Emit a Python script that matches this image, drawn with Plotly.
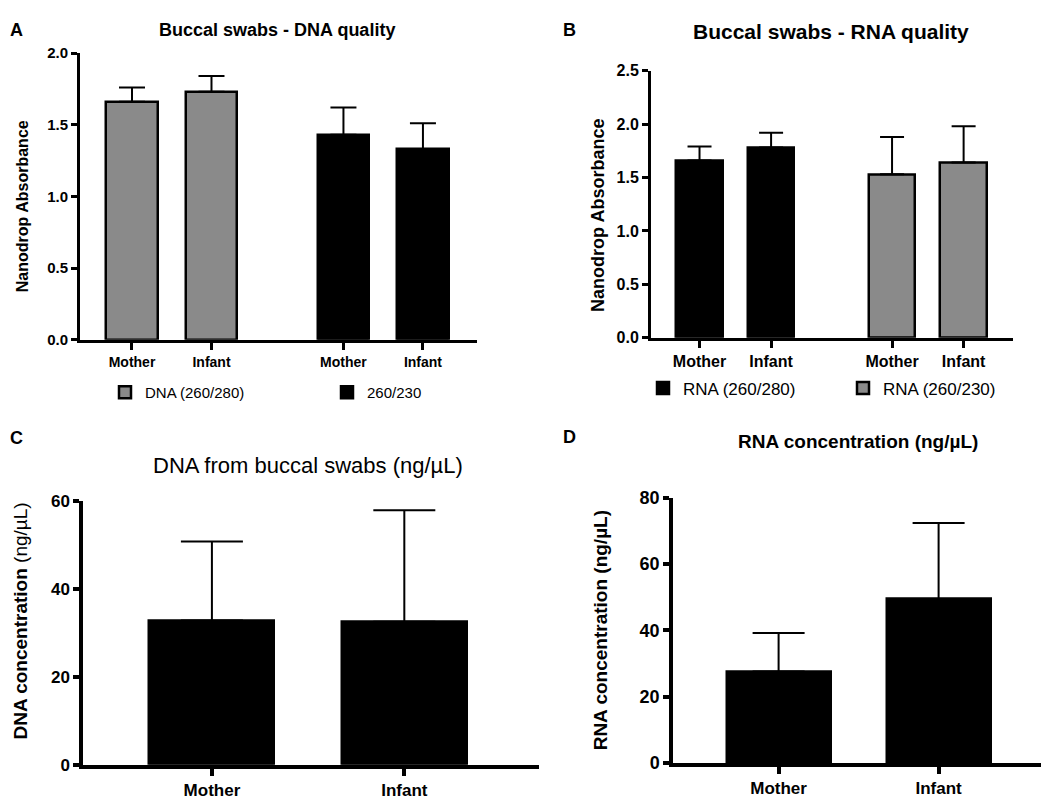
import plotly.graph_objects as go

# values (mean, SD)
groups = ["Mother", "Infant"]

dna_260_280 = [1.66, 1.73]
dna_260_280_sd = [0.10, 0.11]
dna_260_230 = [1.43, 1.33]
dna_260_230_sd = [0.19, 0.18]

rna_260_280 = [1.66, 1.78]
rna_260_280_sd = [0.13, 0.14]
rna_260_230 = [1.53, 1.64]
rna_260_230_sd = [0.35, 0.34]

dna_conc = [32.8, 32.5]
dna_conc_sd = [17.9, 25.3]
rna_conc = [27.6, 49.4]
rna_conc_sd = [11.6, 23.0]

FONT = "Liberation Sans, Arial, sans-serif"
GRAY = "#8a8a8a"
# the page puts the plot 8px in from the top-left corner
OFF = 8
W, H = 1056 - OFF, 809 - OFF


def px_x(v):
    return (v - OFF) / W


def px_y(v):
    return 1 - (v - OFF) / H


def bars(x, y, sd, color, name, xa, ya, legend=None, showlegend=True, cap=13, lw=2.5):
    return go.Bar(
        x=x, y=y, name=name, width=0.65,
        marker=dict(color=color, line=dict(color="black", width=lw)),
        error_y=dict(type="data", array=sd, arrayminus=[0] * len(sd), symmetric=False,
                     color="black", thickness=2, width=cap),
        xaxis=xa, yaxis=ya, showlegend=showlegend,
        legend=legend or "legend",
    )


# bar positions: two groups separated by a gap
pos_a1 = [i for i in range(len(groups))]
pos_a2 = [i + len(groups) + 0.66 for i in range(len(groups))]
pos_b1 = [i for i in range(len(groups))]
pos_b2 = [i + len(groups) + 0.69 for i in range(len(groups))]
pos_c = [i for i in range(len(groups))]

fig = go.Figure()
fig.add_trace(bars(pos_a1, dna_260_280, dna_260_280_sd, GRAY, "DNA (260/280)", "x", "y"))
fig.add_trace(bars(pos_a2, dna_260_230, dna_260_230_sd, "black", "260/230", "x", "y"))
fig.add_trace(bars(pos_b1, rna_260_280, rna_260_280_sd, "black", "RNA (260/280)", "x2", "y2", legend="legend2", cap=12))
fig.add_trace(bars(pos_b2, rna_260_230, rna_260_230_sd, GRAY, "RNA (260/230)", "x2", "y2", legend="legend2", cap=12))
fig.add_trace(bars(pos_c, dna_conc, dna_conc_sd, "black", "DNA", "x3", "y3", showlegend=False, cap=31))
fig.add_trace(bars(pos_c, rna_conc, rna_conc_sd, "black", "RNA", "x4", "y4", showlegend=False, cap=26))


def xax(domain, rng, tickvals, size, lw=3):
    return dict(domain=domain, range=rng, tickvals=tickvals, ticktext=groups * (len(tickvals) // 2),
                showline=True, linecolor="black", linewidth=lw, ticks="outside", ticklen=7,
                tickwidth=lw, tickcolor="black", showgrid=False, zeroline=False,
                tickfont=dict(family=FONT, size=size, color="black", weight="bold"))


def yax(domain, rng, dtick, size, fmt, anchor, lw=3):
    return dict(domain=domain, range=rng, dtick=dtick, tickformat=fmt, anchor=anchor,
                showline=True, linecolor="black", linewidth=lw, ticks="outside", ticklen=6,
                tickwidth=lw, tickcolor="black", showgrid=False, zeroline=False,
                tickfont=dict(family=FONT, size=size, color="black", weight="bold"))


fig.update_layout(
    width=W, height=H, margin=dict(l=0, r=0, t=0, b=0),
    paper_bgcolor="white", plot_bgcolor="white", bargap=0,
    xaxis=dict(**xax([px_x(80), px_x(477)], [-0.654, 4.34], pos_a1 + pos_a2, 14), anchor="y"),
    yaxis=yax([px_y(338), px_y(44)], [0, 2], 0.5, 15, ".1f", "x"),
    xaxis2=dict(**xax([px_x(651), px_x(1013)], [-0.678, 4.38], pos_b1 + pos_b2, 16), anchor="y2"),
    yaxis2=yax([px_y(336), px_y(62)], [0, 2.5], 0.5, 16, ".1f", "x2"),
    xaxis3=dict(**xax([px_x(83), px_x(539)], [-0.67, 1.70], pos_c, 17, lw=3.5), anchor="y3"),
    yaxis3=yax([px_y(774), px_y(503)], [0, 60], 20, 17, "d", "x3", lw=3.5),
    xaxis4=dict(**xax([px_x(673), px_x(1041)], [-0.66, 1.64], pos_c, 17, lw=3.5), anchor="y4"),
    yaxis4=yax([px_y(772), px_y(500)], [0, 80], 20, 18, "d", "x4", lw=3.5),
    legend=dict(orientation="h", x=px_x(105), y=px_y(392), xanchor="left", yanchor="middle",
                entrywidth=177, entrywidthmode="pixels", bgcolor="rgba(0,0,0,0)",
                font=dict(family=FONT, size=15, color="black")),
    legend2=dict(orientation="h", x=px_x(643), y=px_y(388), xanchor="left", yanchor="middle",
                 entrywidth=155, entrywidthmode="pixels", bgcolor="rgba(0,0,0,0)",
                 font=dict(family=FONT, size=17, color="black")),
)

notes = [
    # text, x, y, size, angle, yanchor
    ("<b>A</b>", 16, 8, 18, 0, "top"),
    ("<b>B</b>", 569, 8, 18, 0, "top"),
    ("<b>C</b>", 16, 439, 18, 0, "middle"),
    ("<b>D</b>", 569, 438, 18, 0, "middle"),
    ("<b>Buccal swabs - DNA quality</b>", 277, 8, 18, 0, "top"),
    ("<b>Buccal swabs - RNA quality</b>", 831, 8, 21, 0, "top"),
    ("DNA from buccal swabs (ng/µL)", 308, 467, 22, 0, "middle"),
    ("<b>RNA concentration (ng/µL)</b>", 858, 442, 19, 0, "middle"),
    ("<b>Nanodrop Absorbance</b>", 22, 201, 16, -90, "middle"),
    ("<b>Nanodrop Absorbance</b>", 598, 211, 18, -90, "middle"),
    ("<b>DNA concentration</b> (ng/µL)", 21, 627, 19, -90, "middle"),
    ("<b>RNA concentration (ng/µL)</b>", 600, 636, 19, -90, "middle"),
]
for text, x, y, size, angle, ya in notes:
    fig.add_annotation(text=text, x=px_x(x), y=px_y(y), xref="paper", yref="paper",
                       xanchor="center", yanchor=ya, showarrow=False, textangle=angle,
                       font=dict(family=FONT, size=size, color="black"))

fig.write_html("out.html")
